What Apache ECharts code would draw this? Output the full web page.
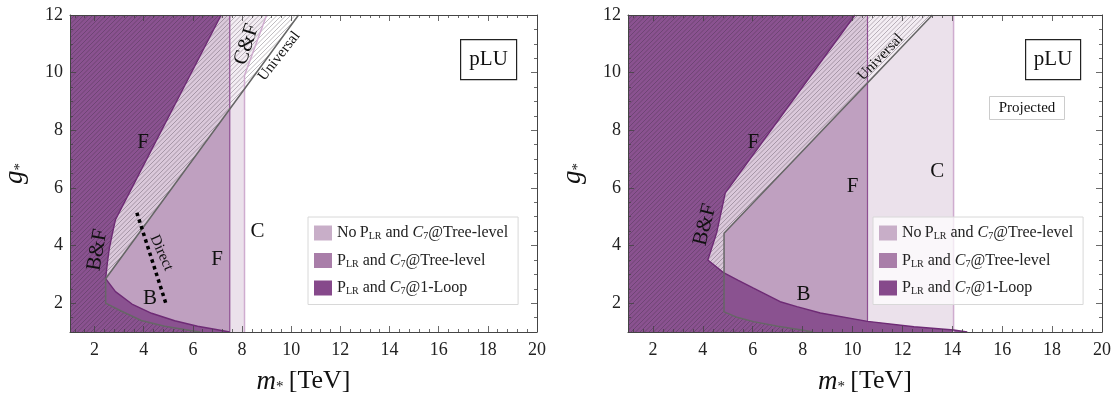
<!DOCTYPE html>
<html lang="en" style="height: 100%">
<head>
  <meta charset="utf-8">
</head>
<body style="height: 100%; margin: 0; background: #fff">
  <div id="container" style="width: 1117px; height: 407px"></div>

  <script type="text/javascript" src="https://cdn.jsdelivr.net/npm/echarts@6/dist/echarts.min.js"></script>

  <script type="text/javascript">
    var dom = document.getElementById('container');
    var myChart = echarts.init(dom, null, { renderer: 'canvas' });

    const FONT = '"Liberation Serif", "DejaVu Serif", serif';
    const FRAME = '#444';

    // axis ticks
    const xMajor = [2, 4, 6, 8, 10, 12, 14, 16, 18, 20];
    const yMajor = [2, 4, 6, 8, 10, 12];

    // ---- left panel (current bounds) ----
    const curLightEdge = [[8.1, 1], [8.1, 9.9], [9.0, 12]];
    const curMedEdge = [[7.5, 1], [7.5, 12]];
    const curLoopUpper = [[2.45, 2.85], [2.52, 3.4], [2.6, 3.9], [2.72, 4.4], [2.85, 4.9], [7.15, 12]];
    const curLoopLower = [[2.45, 2.85], [2.85, 2.4], [3.52, 1.97], [4.32, 1.65], [5.26, 1.39], [6.19, 1.2], [7.0, 1.08], [7.5, 1.0]];
    const curUniUpper = [[2.45, 2.85], [10.3, 12]];
    const curUniLower = [[2.45, 2.85], [2.45, 2.0], [3.1, 1.72], [3.9, 1.4], [4.85, 1.2], [5.9, 1.05], [6.3, 1.0]];
    const curDirect = [[3.72, 5.14], [4.92, 1.94]];
    const curTexts = [
      [3.97, 7.57, 'F', 0], [2.12, 3.85, 'B&F', 80], [4.25, 2.18, 'B', 0],
      [6.98, 3.5, 'F', 0], [8.63, 4.48, 'C', 0], [8.19, 10.98, 'C&F', 72],
      [9.51, 10.57, 'Universal', 52], [4.72, 3.75, 'Direct', -66]
    ];

    // ---- right panel (projected bounds) ----
    const projLightEdge = [[14.05, 1], [14.05, 12]];
    const projMedEdge = [[10.6, 1], [10.6, 12]];
    const projLoopUpper = [[4.85, 3.05], [4.2, 3.5], [4.55, 4.43], [4.9, 5.83], [10.1, 12]];
    const projLoopLower = [[4.85, 3.05], [5.4, 2.8], [6.03, 2.52], [7.1, 2.05], [7.77, 1.88], [8.71, 1.66], [10.6, 1.37], [12.46, 1.18], [14.05, 1.07], [14.6, 1.0]];
    const projUniUpper = [[4.85, 4.43], [13.2, 12]];
    const projUniLower = [[4.85, 4.43], [4.85, 1.7], [5.4, 1.5], [6.03, 1.36], [7.0, 1.2], [7.97, 1.07], [8.4, 1.0]];
    const projTexts = [
      [6.02, 7.57, 'F', 0], [4.09, 4.72, 'B&F', 76], [10.0, 6.04, 'F', 0],
      [8.03, 2.29, 'B', 0], [13.4, 6.57, 'C', 0], [11.12, 10.53, 'Universal', 46]
    ];

    const legendNames = ['noplr', 'plr', 'loop'];
    const legendColors = ['#c8aec8', '#a97ea9', '#86498b'];

    function minorTicks(min, max, step, major) {
      const out = [];
      for (let k = Math.ceil(min / step); k * step <= max + 1e-9; k++) {
        const v = Math.round(k * step * 100) / 100;
        if (major.indexOf(v) < 0) out.push(v);
      }
      return out;
    }
    const xMinor = minorTicks(1, 20, 0.4, xMajor);
    const yMinor = minorTicks(1, 12, 0.5, yMajor);

    // hatch pattern "////"
    const hatch = document.createElement('canvas');
    hatch.width = hatch.height = 9;
    (function () {
      const g = hatch.getContext('2d');
      g.strokeStyle = 'rgba(50,40,55,0.42)';
      g.lineWidth = 0.75;
      [0, 4.5, 9, 13.5, 18].forEach(function (c) {
        g.beginPath();
        g.moveTo(-2, c + 2);
        g.lineTo(c + 2, -2);
        g.stroke();
      });
    })();

    const rev = a => a.slice().reverse();

    function axesFor(isX, gi, name) {
      const min = 1, max = isX ? 20 : 12;
      const major = isX ? xMajor : yMajor, minor = isX ? xMinor : yMinor;
      const pos = isX ? ['bottom', 'top'] : ['left', 'right'];
      const base = { gridIndex: gi, type: 'value', min: min, max: max, z: 30, splitLine: { show: false } };
      const lineOn = { show: true, onZero: false, lineStyle: { color: FRAME, width: 1 } };
      const tk = (vals, len) => ({ show: true, inside: true, length: len, customValues: vals, lineStyle: { color: FRAME, width: 0.8 } });
      return [
        Object.assign({}, base, {
          position: pos[0], axisLine: lineOn, axisTick: tk(major, 6),
          axisLabel: { show: true, customValues: major, margin: isX ? 9 : 7, fontFamily: FONT, fontSize: 18, color: '#222' },
          name: name, nameLocation: 'middle', nameGap: isX ? 36 : 42, nameRotate: isX ? 0 : 90,
          nameTextStyle: {
            color: '#111',
            rich: {
              i: { fontFamily: FONT, fontStyle: 'italic', fontSize: 27, color: '#111' },
              s: { fontFamily: FONT, fontSize: 15, color: '#111', padding: [12, 0, 0, 0] },
              r: { fontFamily: FONT, fontSize: 26, color: '#111' }
            }
          }
        }),
        Object.assign({}, base, { position: pos[0], axisLine: { show: false }, axisTick: tk(minor, 3), axisLabel: { show: false } }),
        Object.assign({}, base, { position: pos[1], axisLine: lineOn, axisTick: tk(major, 6), axisLabel: { show: false } }),
        Object.assign({}, base, { position: pos[1], axisLine: { show: false }, axisTick: tk(minor, 3), axisLabel: { show: false } })
      ];
    }

    function polySeries(gi, pts, style, z, name) {
      const s = {
        type: 'custom', xAxisIndex: gi * 4, yAxisIndex: gi * 4, z: z, silent: true,
        data: [pts[0]],
        renderItem: function (params, api) {
          return { type: 'polygon', shape: { points: pts.map(p => api.coord(p)) }, style: style };
        }
      };
      if (name) { s.name = name; s.itemStyle = { color: legendColors[legendNames.indexOf(name)] }; }
      return s;
    }

    function lineSeries(gi, pts, color, width, z, type) {
      return {
        type: 'line', xAxisIndex: gi * 4, yAxisIndex: gi * 4, data: pts, symbol: 'none', z: z,
        silent: true, animation: false, lineStyle: { color: color, width: width, type: type || 'solid' }
      };
    }

    function textSeries(gi, rows) {
      return {
        type: 'custom', xAxisIndex: gi * 4, yAxisIndex: gi * 4, z: 9, silent: true,
        data: rows.map(r => [r[0], r[1]]),
        renderItem: function (params, api) {
          const r = rows[params.dataIndex];
          const p = api.coord([r[0], r[1]]);
          const small = r[2] === 'Universal' || r[2] === 'Direct';
          return {
            type: 'text', x: p[0], y: p[1], rotation: r[3] * Math.PI / 180,
            style: { text: r[2], font: (small ? '15px ' : '21px ') + FONT, fill: '#111', align: 'center', verticalAlign: 'middle' }
          };
        }
      };
    }

    function panel(gi, d) {
      const lightPoly = [[1, 1]].concat(d.light, [[1, 12]]);
      const medPoly = [[1, 1]].concat(d.med, [[1, 12]]);
      const uniPoly = [[1, 1]].concat(rev(d.uniLower), d.uniUpper.slice(1), [[1, 12]]);
      // 1-loop excluded region: everything left of / below the purple boundary
      const loopPoly = [[1, 1]].concat(rev(d.loopLower), d.loopUpper.slice(1), [[1, 12]]);
      const list = [
        polySeries(gi, lightPoly, { fill: '#ebe1eb' }, 2, 'noplr'),
        polySeries(gi, medPoly, { fill: '#bfa0c0' }, 3, 'plr'),
        polySeries(gi, uniPoly, { fill: 'rgba(255,255,255,0.42)' }, 4),
        polySeries(gi, loopPoly, { fill: '#8a5290' }, 5, 'loop'),
        polySeries(gi, uniPoly, { fill: { image: hatch, repeat: 'repeat' } }, 6),
        lineSeries(gi, d.light, '#cfaccf', 1.5, 7),
        lineSeries(gi, d.med, '#8e4f92', 1.2, 7),
        lineSeries(gi, rev(d.loopUpper).concat(d.loopLower.slice(1)), '#6e2b75', 1.4, 7),
        lineSeries(gi, rev(d.uniUpper).concat(d.uniLower.slice(1)), '#666', 1.5, 7),
        textSeries(gi, d.texts)
      ];
      if (d.direct) list.push(lineSeries(gi, d.direct, '#000', 3.5, 8, [3.5, 3.5]));
      return list;
    }

    const series = panel(0, {
      light: curLightEdge, med: curMedEdge, loopUpper: curLoopUpper, loopLower: curLoopLower,
      uniUpper: curUniUpper, uniLower: curUniLower, texts: curTexts, direct: curDirect
    }).concat(panel(1, {
      light: projLightEdge, med: projMedEdge, loopUpper: projLoopUpper, loopLower: projLoopLower,
      uniUpper: projUniUpper, uniLower: projUniLower, texts: projTexts
    }));

    const legendText = {
      noplr: '{r|No\u2009P}{sub|LR}{r| and }{it|C}{sub|7}{r|@Tree-level}',
      plr: '{r|P}{sub|LR}{r| and }{it|C}{sub|7}{r|@Tree-level}',
      loop: '{r|P}{sub|LR}{r| and }{it|C}{sub|7}{r|@1-Loop}'
    };

    function legendAt(left) {
      return {
        left: left, top: 217, orient: 'vertical', selectedMode: false, z: 20,
        itemWidth: 18, itemHeight: 15, itemGap: 11, icon: 'rect',
        padding: [8, 10, 8, 6],
        backgroundColor: 'rgba(255,255,255,0.72)', borderColor: '#d8d8d8', borderWidth: 1,
        data: legendNames.map((n, i) => ({ name: n, itemStyle: { color: legendColors[i] } })),
        formatter: n => legendText[n],
        textStyle: {
          fontFamily: FONT, fontSize: 16, color: '#222',
          rich: {
            r: { fontFamily: FONT, fontSize: 16, color: '#222' },
            it: { fontFamily: FONT, fontSize: 16, fontStyle: 'italic', color: '#222' },
            sub: { fontFamily: FONT, fontSize: 10, color: '#222', padding: [7, 0, 0, 0] }
          }
        }
      };
    }

    function boxText(x, y, w, h, text, size, border, bw) {
      return {
        type: 'group', left: x, top: y, z: 20,
        children: [
          { type: 'rect', shape: { x: 0, y: 0, width: w, height: h }, style: { fill: '#fff', stroke: border, lineWidth: bw } },
          { type: 'text', x: w / 2, y: h / 2, style: { text: text, font: size + 'px ' + FONT, fill: '#111', align: 'center', verticalAlign: 'middle' } }
        ]
      };
    }

    const xName = '{i|m}{s|*}{r|\u2009[TeV]}';
    const yName = '{i|g}{s|*}';

    const option = {
      animation: false,
      grid: [
        { left: 64, top: 15, width: 473, height: 317 },
        { left: 628, top: 15, width: 474, height: 317 }
      ],
      xAxis: axesFor(true, 0, xName).concat(axesFor(true, 1, xName)),
      yAxis: axesFor(false, 0, yName).concat(axesFor(false, 1, yName)),
      legend: [legendAt(308), legendAt(873)],
      graphic: [
        boxText(460, 39, 56, 40, 'pLU', 21, '#222', 1.2),
        boxText(1025, 39, 55, 40, 'pLU', 21, '#222', 1.2),
        boxText(989, 96, 75, 23, 'Projected', 15, '#ccc', 1)
      ],
      series: series
    };

    myChart.setOption(option);
    window.addEventListener('resize', myChart.resize);
  </script>
</body>
</html>
